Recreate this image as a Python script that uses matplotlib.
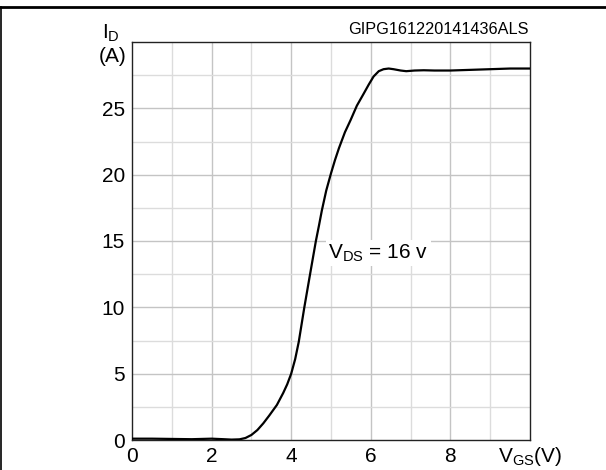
import matplotlib
matplotlib.use("Agg")
import matplotlib.pyplot as plt
from matplotlib.lines import Line2D

plt.rcParams['font.family'] = ['Liberation Sans', 'DejaVu Sans']
plt.rcParams['mathtext.fontset'] = 'custom'
plt.rcParams['mathtext.rm'] = 'Liberation Sans'

# transfer curve
vgs = [0, 0.5, 1.0, 1.5, 2.0, 2.3, 2.5, 2.7, 2.85, 3.0, 3.15, 3.3, 3.45, 3.64,
       3.8, 3.9, 4.0, 4.1, 4.19, 4.33, 4.48, 4.62, 4.7, 4.77, 4.88, 5.0, 5.1,
       5.2, 5.35, 5.49, 5.65, 5.82, 5.95, 6.07, 6.2, 6.32, 6.45, 6.57, 6.75,
       6.89, 7.1, 7.33, 7.6, 8.0, 8.5, 9.0, 9.5, 10.0]
id_a = [0.1, 0.1, 0.08, 0.06, 0.1, 0.06, 0.03, 0.05, 0.15, 0.38, 0.75, 1.26,
        1.85, 2.64, 3.55, 4.2, 5.0, 6.1, 7.4, 10.0, 12.6, 15.0, 16.2, 17.3,
        18.8, 20.1, 21.1, 22.0, 23.2, 24.1, 25.2, 26.1, 26.8, 27.4, 27.8, 27.95,
        28.0, 27.95, 27.85, 27.8, 27.85, 27.87, 27.85, 27.85, 27.9, 27.95, 28.0,
        28.0]

xticks = [0, 2, 4, 6, 8]
yticks = [0, 5, 10, 15, 20, 25]
fig_code = "GIPG161220141436ALS"
curve_label = r"$\mathregular{V_{DS}}$ = 16 v"

fig = plt.figure(figsize=(6.06, 4.70), dpi=100)
ax = fig.add_axes([132 / 606, 30 / 470, 398 / 606, 398 / 470])

ax.set_xlim(0, 10)
ax.set_ylim(0, 30)

# grid: light minor lines, slightly darker major ones
for v in range(1, 10):
    c = "#c4c4c4" if v % 2 == 0 else "#dcdcdc"
    ax.axvline(v, color=c, lw=1.0, zorder=1)
for v in [2.5, 5, 7.5, 10, 12.5, 15, 17.5, 20, 22.5, 25, 27.5]:
    c = "#c4c4c4" if v % 5 == 0 else "#dcdcdc"
    ax.axhline(v, color=c, lw=1.0, zorder=1)

ax.plot(vgs, id_a, color="black", lw=1.6, zorder=3)

ax.set_xticks(xticks)
ax.set_yticks(yticks)
ax.tick_params(length=0, labelsize=15, pad=5)
for s in ax.spines.values():
    s.set_color("#222222")
    s.set_linewidth(1.0)

ax.text(4.93, 14.1, curve_label, fontsize=15, va="center", ha="left",
        bbox=dict(facecolor="white", edgecolor="none", pad=2), zorder=4)

fig.text(529 / 606, 1 - 29 / 470, fig_code, fontsize=11.7, ha="right", va="center")
fig.text(111 / 606, 1 - 33 / 470, r"$\mathregular{I_D}$", fontsize=15,
         ha="center", va="center")
fig.text(113 / 606, 1 - 57 / 470, "(A)", fontsize=15, ha="center", va="center")
fig.text(530 / 606, 1 - 456 / 470, r"$\mathregular{V_{GS}}$(V)", fontsize=15,
         ha="center", va="center")

# cropped outer frame of the datasheet figure
fig.add_artist(Line2D([0, 1], [1 - 7 / 470, 1 - 7 / 470], color="black", lw=2.0,
                      transform=fig.transFigure))
fig.add_artist(Line2D([0.6 / 606, 0.6 / 606], [0, 1 - 7 / 470], color="black",
                      lw=1.2, transform=fig.transFigure))

fig.savefig("out.png", dpi=100)
